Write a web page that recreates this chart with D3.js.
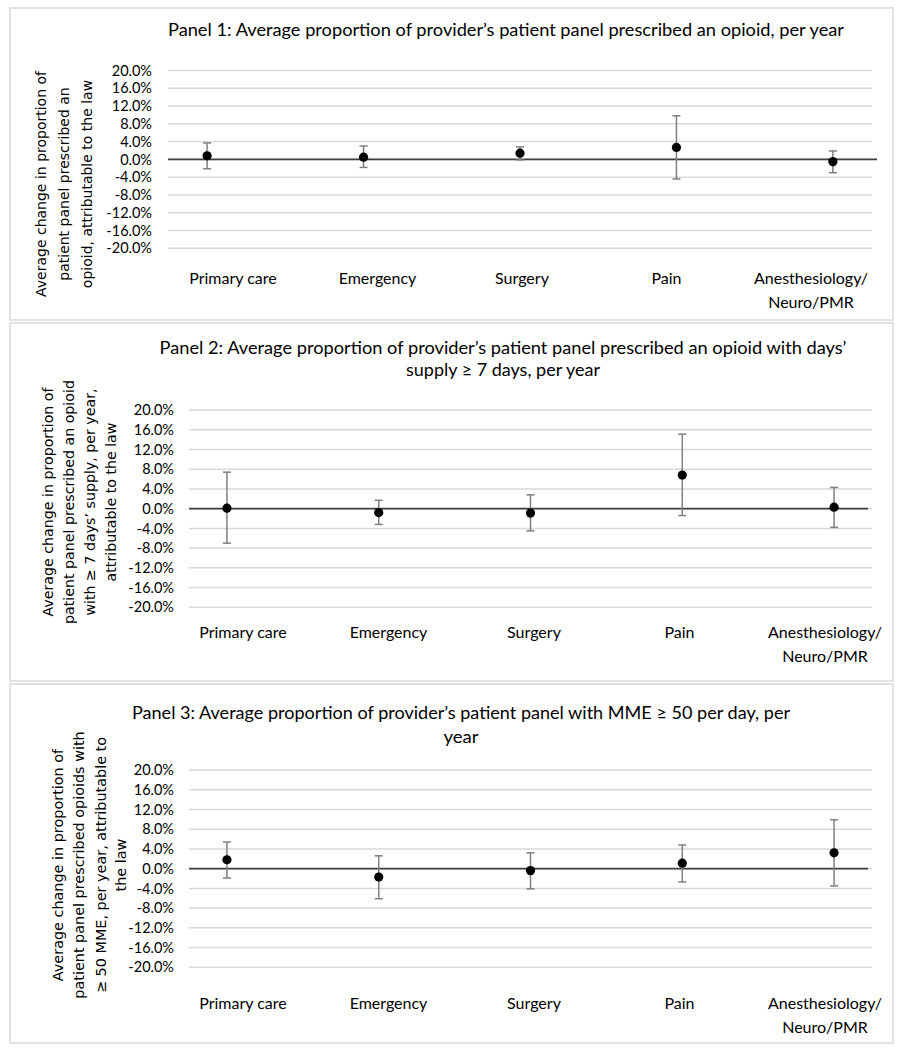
<!DOCTYPE html>
<html>
<head>
<meta charset="utf-8">
<script src="https://cdn.jsdelivr.net/npm/d3@7"></script>
<style>
  html, body { margin: 0; padding: 0; background: #ffffff; }
  svg { display: block; }
</style>
</head>
<body>
<svg id="chart" width="903" height="1050"></svg>
<script>
// ---------- DATA ----------
const categories = ["Primary care", "Emergency", "Surgery", "Pain", "Anesthesiology/Neuro/PMR"];
const categoryLabelLines = [["Primary care"], ["Emergency"], ["Surgery"], ["Pain"], ["Anesthesiology/", "Neuro/PMR"]];
const yTickValues = [20, 16, 12, 8, 4, 0, -4, -8, -12, -16, -20];

// Panel 1: prescribed an opioid
const p1Estimate = [0.8, 0.5, 1.4, 2.7, -0.5];
const p1Lower    = [-2.1, -1.8, -0.1, -4.4, -3.0];
const p1Upper    = [3.7, 3.0, 2.8, 9.8, 1.9];

// Panel 2: days' supply >= 7 days
const p2Estimate = [0.1, -0.8, -0.9, 6.8, 0.3];
const p2Lower    = [-7.0, -3.2, -4.5, -1.4, -3.8];
const p2Upper    = [7.4, 1.7, 2.8, 15.1, 4.3];

// Panel 3: MME >= 50 per day
const p3Estimate = [1.8, -1.7, -0.4, 1.1, 3.2];
const p3Lower    = [-1.9, -6.1, -4.1, -2.7, -3.5];
const p3Upper    = [5.4, 2.6, 3.2, 4.8, 9.9];

const p1Title = ["Panel 1: Average proportion of provider\u2019s patient panel prescribed an opioid, per year"];
const p2Title = ["Panel 2: Average proportion of provider\u2019s patient panel prescribed an opioid with days\u2019", "supply \u2265 7 days, per year"];
const p3Title = ["Panel 3: Average proportion of provider\u2019s patient panel with MME \u2265 50 per day, per", "year"];

const p1YTitle = ["Average change in proportion of", "patient panel prescribed an", "opioid, attributable to the law"];
const p2YTitle = ["Average change in proportion of", "patient panel prescribed an opioid", "with \u2265 7 days\u2019 supply, per year,", "attributable to the law"];
const p3YTitle = ["Average change in proportion of", "patient panel prescribed opioids with", "\u2265 50 MME, per year, attributable to", "the law"];

// ---------- LAYOUT ----------
const panels = [
  { est: p1Estimate, lo: p1Lower, hi: p1Upper, title: p1Title, yTitle: p1YTitle,
    box: [10, 8, 893, 320], xr: [168, 872], yr: [70.5, 248.3], zeroExt: 5, tickRight: 152,
    titleX: 506, titleY: [30], titleW: [676],
    yTitleX: [41, 64, 87], yTitleCy: 184, yTitleSize: 14,
    catRange: [233, 811], catY: 278 },
  { est: p2Estimate, lo: p2Lower, hi: p2Upper, title: p2Title, yTitle: p2YTitle,
    box: [10, 323, 893, 681], xr: [189, 872], yr: [410, 607.3], zeroExt: -4, tickRight: 174,
    titleX: 503, titleY: [348, 370], titleW: [687, 194],
    yTitleX: [48, 69, 90, 111], yTitleCy: 502, yTitleSize: 14.2,
    catRange: [243, 825], catY: 632 },
  { est: p3Estimate, lo: p3Lower, hi: p3Upper, title: p3Title, yTitle: p3YTitle,
    box: [10, 684, 893, 1043], xr: [189, 872], yr: [770, 967.3], zeroExt: -4, tickRight: 174,
    titleX: 461, titleY: [713, 737], titleW: [658, 35],
    yTitleX: [58, 79, 101, 121], yTitleCy: 865, yTitleSize: 14.4,
    catRange: [243, 825], catY: 1003 }
];

const svg = d3.select("#chart");
const mainFont = "Lato, 'Open Sans', 'Liberation Sans', sans-serif";
const fmt = v => (v < 0 ? "-" : "") + Math.abs(v).toFixed(1) + "%";

panels.forEach(p => {
  const g = svg.append("g");
  // panel border
  g.append("rect")
    .attr("x", p.box[0]).attr("y", p.box[1])
    .attr("width", p.box[2] - p.box[0]).attr("height", p.box[3] - p.box[1])
    .attr("fill", "#fff").attr("stroke", "#d9d9d9").attr("stroke-width", 1.5);

  const x = d3.scalePoint().domain(categories).range(p.xr).padding(0.25);
  const y = d3.scaleLinear().domain([20, -20]).range(p.yr);
  const xl = d3.scalePoint().domain(categories).range(p.catRange);

  // gridlines
  g.append("g").selectAll("line").data(yTickValues).join("line")
    .attr("x1", p.xr[0]).attr("x2", p.xr[1])
    .attr("y1", d => y(d)).attr("y2", d => y(d))
    .attr("stroke", "#d9d9d9").attr("stroke-width", 1.5);

  // y axis tick labels
  const yAxis = d3.axisLeft(y).tickValues(yTickValues).tickSize(0).tickPadding(0).tickFormat(fmt);
  const ya = g.append("g").attr("transform", `translate(${p.tickRight},0)`).call(yAxis);
  ya.select(".domain").remove();
  ya.selectAll("text")
    .attr("font-family", mainFont).attr("font-size", 14.5).attr("fill", "#000");

  // zero line
  g.append("line")
    .attr("x1", p.xr[0]).attr("x2", p.xr[1] + p.zeroExt)
    .attr("y1", y(0)).attr("y2", y(0))
    .attr("stroke", "#404040").attr("stroke-width", 1.8);

  // error bars
  const eb = g.append("g").selectAll("g").data(categories).join("g");
  eb.append("line")
    .attr("x1", (d) => x(d)).attr("x2", (d) => x(d))
    .attr("y1", (d, i) => y(p.hi[i])).attr("y2", (d, i) => y(p.lo[i]))
    .attr("stroke", "#7f7f7f").attr("stroke-width", 1.5);
  eb.append("line")
    .attr("x1", d => x(d) - 4).attr("x2", d => x(d) + 4)
    .attr("y1", (d, i) => y(p.hi[i])).attr("y2", (d, i) => y(p.hi[i]))
    .attr("stroke", "#7f7f7f").attr("stroke-width", 1.5);
  eb.append("line")
    .attr("x1", d => x(d) - 4).attr("x2", d => x(d) + 4)
    .attr("y1", (d, i) => y(p.lo[i])).attr("y2", (d, i) => y(p.lo[i]))
    .attr("stroke", "#7f7f7f").attr("stroke-width", 1.5);

  // points
  g.append("g").selectAll("circle").data(categories).join("circle")
    .attr("cx", d => x(d)).attr("cy", (d, i) => y(p.est[i]))
    .attr("r", 4.6).attr("fill", "#000");

  // category labels
  const cl = g.append("g").selectAll("text").data(categories).join("text")
    .attr("x", d => xl(d)).attr("y", p.catY)
    .attr("text-anchor", "middle").attr("dy", "0.35em")
    .attr("font-family", mainFont).attr("font-size", 16).attr("fill", "#000");
  cl.each(function(d, i) {
    const t = d3.select(this);
    categoryLabelLines[i].forEach((ln, j) => {
      t.append("tspan").attr("x", xl(d)).attr("dy", j === 0 ? "0.35em" : 24).text(ln);
    });
  });

  // panel title
  p.title.forEach((ln, j) => {
    g.append("text")
      .attr("x", p.titleX).attr("y", p.titleY[j]).attr("dy", "0.35em")
      .attr("text-anchor", "middle")
      .attr("font-family", mainFont).attr("font-size", 16.5).attr("fill", "#000")
      .attr("textLength", p.titleW[j]).attr("lengthAdjust", "spacingAndGlyphs")
      .text(ln);
  });

  // y axis title
  p.yTitle.forEach((ln, j) => {
    g.append("text")
      .attr("transform", `translate(${p.yTitleX[j]},${p.yTitleCy}) rotate(-90)`)
      .attr("text-anchor", "middle").attr("dy", "0.35em")
      .attr("font-family", "'DejaVu Sans', Verdana, sans-serif")
      .attr("font-size", p.yTitleSize).attr("fill", "#000")
      .text(ln);
  });
});
</script>
</body>
</html>
